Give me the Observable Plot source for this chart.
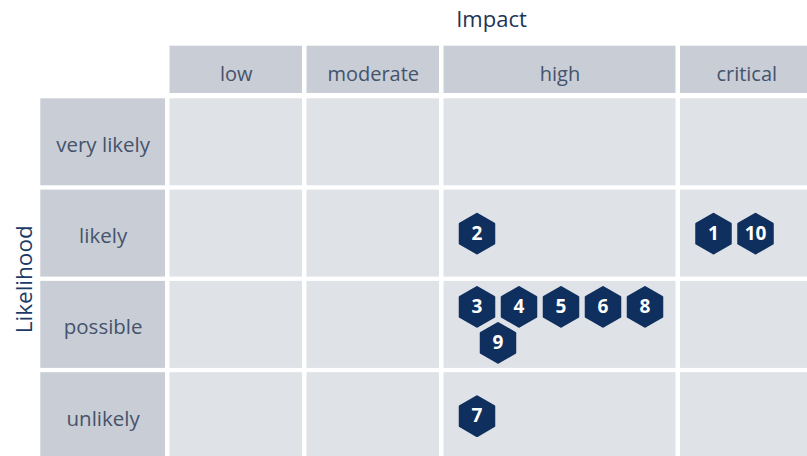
<!DOCTYPE html>
<html><head><meta charset="utf-8">
<script src="https://cdn.jsdelivr.net/npm/d3@7"></script>
<script src="https://cdn.jsdelivr.net/npm/@observablehq/plot@0.6"></script>
<style>body{margin:0;background:#fff;overflow:hidden}</style>
</head><body><div id="chart"></div>
<script>
// ---- data ----
const impactLevels = ["low", "moderate", "high", "critical"];
const likelihoodLevels = ["very likely", "likely", "possible", "unlikely"];
const riskIds = [1, 2, 3, 4, 5, 6, 7, 8, 9, 10];
const riskImpact = ["critical", "high", "high", "high", "high", "high", "high", "high", "high", "critical"];
const riskLikelihood = ["likely", "likely", "possible", "possible", "possible", "possible", "unlikely", "possible", "possible", "likely"];
const xTitle = "Impact";
const yTitle = "Likelihood";

// ---- layout ----
const W = 807, H = 456;
const gap = 4.5;
const rowHeaderX0 = 40.3, rowHeaderW = 124.7;
const headerY0 = 45.7, headerH = 47.3;
const rowY0 = 98.3, rowH = 87, rowPitch = 91.3;
const minColW = 132.5, hexPitch = 42, hexRowPitch = 36, padL = 12, padR = 10, perRow = 5;
const font = "'Open Sans', Lato, sans-serif";

// risks table
const risks = riskIds.map((id, i) => ({id, impact: riskImpact[i], likelihood: riskLikelihood[i]}));
const cellGroups = d3.group(risks, d => d.impact, d => d.likelihood);

// column widths from max number of markers in the column
const cols = [];
let cx = rowHeaderX0 + rowHeaderW + gap;
for (const imp of impactLevels) {
  const g = cellGroups.get(imp);
  const maxN = g ? d3.max(Array.from(g.values()), a => a.length) : 0;
  const w = Math.max(minColW, padL + Math.min(maxN, perRow) * hexPitch + padR);
  cols.push({impact: imp, x1: cx, x2: cx + w});
  cx += w + gap;
}
const colOf = Object.fromEntries(cols.map(c => [c.impact, c]));
const rows = likelihoodLevels.map((l, i) => ({likelihood: l, y1: rowY0 + i * rowPitch, y2: rowY0 + i * rowPitch + rowH}));
const rowOf = Object.fromEntries(rows.map(r => [r.likelihood, r]));
const cells = cols.flatMap(c => rows.map(r => ({x1: c.x1, x2: c.x2, y1: r.y1, y2: r.y2})));

// marker positions (honeycomb within cell)
const markers = [];
for (const [imp, byL] of cellGroups) {
  for (const [lik, arr] of byL) {
    const c = colOf[imp], r = rowOf[lik];
    const nRows = Math.ceil(arr.length / perRow);
    const yc = (r.y1 + r.y2) / 2;
    arr.sort((a, b) => a.id - b.id).forEach((d, k) => {
      const rr = Math.floor(k / perRow), cc = k % perRow;
      markers.push({
        id: d.id,
        x: c.x1 + padL + hexPitch / 2 + cc * hexPitch + (rr % 2 ? hexPitch / 2 : 0),
        y: yc + (rr - (nRows - 1) / 2) * hexRowPitch
      });
    });
  }
}

const rowsTop = rows[0].y1, rowsBottom = rows[rows.length - 1].y2;
const colsLeft = cols[0].x1, colsRight = cols[cols.length - 1].x2;

const chart = Plot.plot({
  width: W, height: H,
  margin: 0,
  x: {type: "linear", domain: [0, W], range: [0, W], axis: null},
  y: {type: "linear", domain: [0, H], range: [0, H], axis: null},
  style: {fontFamily: font, background: "#fff"},
  marks: [
    // column headers
    Plot.rect(cols, {x1: "x1", x2: "x2", y1: () => headerY0, y2: () => headerY0 + headerH, fill: "#c8cdd6"}),
    Plot.text(cols, {x: d => (d.x1 + d.x2) / 2, y: () => headerY0 + headerH / 2, text: "impact", fontSize: 20, fill: "#45536b", dy: 5}),
    // row headers
    Plot.rect(rows, {x1: () => rowHeaderX0, x2: () => rowHeaderX0 + rowHeaderW, y1: "y1", y2: "y2", fill: "#c8cdd6"}),
    Plot.text(rows, {x: () => rowHeaderX0 + rowHeaderW / 2, y: d => (d.y1 + d.y2) / 2, text: "likelihood", fontSize: 20.5, fill: "#45536b", dy: 3}),
    // cells
    Plot.rect(cells, {x1: "x1", x2: "x2", y1: "y1", y2: "y2", fill: "#dfe2e7"}),
    // axis titles
    Plot.text([xTitle], {x: () => (colsLeft + colsRight) / 2, y: () => 19, text: d => d, fontSize: 22, fill: "#1c3458"}),
    Plot.text([yTitle], {x: () => 24, y: () => (rowsTop + rowsBottom) / 2, text: d => d, fontSize: 22.5, fill: "#1c3a66", rotate: -90}),
    // markers
    Plot.dot(markers, {x: "x", y: "y", symbol: "hexagon", r: 17, fill: "#0f2f5e", stroke: "#0f2f5e", strokeWidth: 2.5, strokeLinejoin: "round"}),
    Plot.text(markers, {x: "x", y: "y", text: d => String(d.id), fill: "#fff", fontSize: 19, fontWeight: "bold", fontFamily: "'Open Sans', sans-serif"})
  ]
});
document.getElementById("chart").appendChild(chart);
</script>
</body></html>
